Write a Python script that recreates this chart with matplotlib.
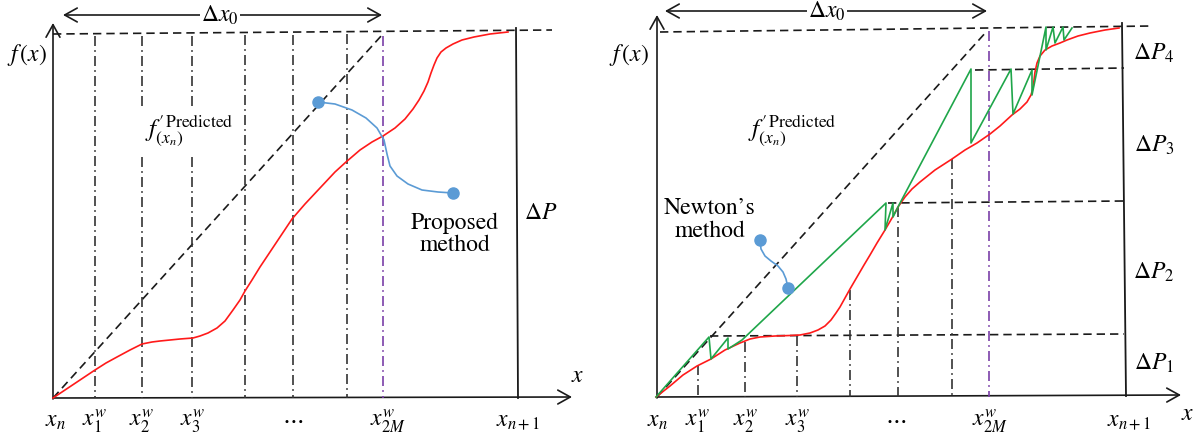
import matplotlib.pyplot as plt
from matplotlib.patches import FancyArrowPatch

plt.rcParams['mathtext.fontset'] = 'stix'
plt.rcParams['font.family'] = ['STIXGeneral', 'DejaVu Serif']

# all positions are in picture pixels (x to the right, y downward)

# ---------------- left panel ----------------
L_origin = (53, 398)
L_xaxis_tip = (572, 397)
L_yaxis_tip = (53, 23)
L_top_dash_x = [53, 552]
L_top_dash_y = [34, 30]
L_right_x = [516, 518]
L_right_y = [28, 398]
L_diag_x = [53, 382]
L_diag_y = [398, 35]
L_curve_x = [53, 65, 80, 95, 106, 117, 130, 142, 152, 160, 170, 180, 193, 200, 208, 217, 225,
             233, 240, 245, 252, 260, 268, 276, 284, 292, 305, 320, 335, 346, 360, 372, 383,
             395, 405, 413, 419, 424, 428, 431, 434, 437, 441, 446, 453, 462, 474, 490, 508]
L_curve_y = [398, 390, 380, 370, 363, 357, 350, 344, 342, 341, 340, 339, 338, 336, 333, 328, 321,
             310, 300, 291, 280, 267, 255, 243, 231, 219, 204, 188, 172, 162, 150, 142, 136,
             128, 119, 109, 100, 91, 82, 73, 65, 58, 52, 48, 44, 40, 37, 34, 32]
L_grid_x = [95, 142, 192, 245, 293, 347]
L_grid_top = [36, 36, 36, 35, 35, 34]
L_gap_x = [142, 192]
L_gap = (107, 157)
L_purple_x = 383
L_blue_x = [318, 335, 352, 366, 377, 384, 387, 390, 397, 408, 422, 438, 453]
L_blue_y = [102, 104, 110, 118, 128, 140, 154, 166, 176, 184, 190, 192, 193]
L_tick_x = [55, 95, 142, 193, 293, 388, 518]
L_tick_text = [r'$x_n$', r'$x_1^w$', r'$x_2^w$', r'$x_3^w$', r'$\cdots$', r'$x_{2M}^w$', r'$x_{n+1}$']

# ---------------- right panel ----------------
R_origin = (657, 397)
R_xaxis_tip = (1181, 395)
R_yaxis_tip = (657, 15)
R_top_dash_x = [660, 1152]
R_top_dash_y = [32, 26]
R_right_x = [1122, 1126]
R_right_y = [23, 396]
R_diag_x = [657, 987]
R_diag_y = [397, 31]
R_curve_x = [656, 670, 683, 697, 711, 725, 740, 750, 760, 775, 790, 800, 810, 818, 825, 831, 836,
             840, 845, 850, 857, 864, 870, 877, 885, 892, 898, 905, 912, 920, 935, 952, 965,
             977, 990, 1000, 1012, 1020, 1027, 1031, 1033, 1034, 1035, 1037, 1040, 1045, 1052,
             1060, 1067, 1078, 1090, 1105, 1119]
R_curve_y = [397, 386, 375, 366, 359, 350, 343, 339, 337, 336, 335.5, 335, 333, 330, 326, 320, 313,
             307, 298, 289, 277, 265, 255, 243, 230, 218, 207, 197, 189, 182, 170, 159, 150,
             143, 134, 126, 115, 109, 102, 95, 88, 80, 72, 63, 56, 50, 46,
             43, 40, 36, 33, 30, 28]
R_grid_x = [698, 745, 797, 850, 898, 952]
R_grid_top = [365, 342, 336, 290, 207, 159]
R_purple_x = 989
R_level_y = [70, 203, 336]
R_level_x0 = [975, 888, 710]
R_newton_x = [656, 709, 711, 728, 728, 742, 886, 885, 893, 893, 899, 971, 971, 1011, 1013,
              1032, 1032, 1046, 1046, 1053, 1055, 1063, 1064, 1072]
R_newton_y = [397, 337, 359, 338, 349, 340, 203, 230, 203, 217, 205, 69, 143, 69, 114,
              70, 95, 27, 50, 27, 43, 27, 40, 28]
R_blue_x = [760, 761, 765, 771, 778, 783, 786, 788]
R_blue_y = [240, 249, 256, 261, 266, 272, 279, 288]
R_tick_x = [657, 698, 746, 798, 896, 990, 1129]
R_tick_text = L_tick_text
R_dp_text = [r'$\Delta P_4$', r'$\Delta P_3$', r'$\Delta P_2$', r'$\Delta P_1$']
R_dp_y = [53, 145, 272, 363]

INK = '#1a1a1a'
GRID = '#333333'
RED = '#ff1a1a'
GREEN = '#1fa64a'
BLUE = '#5b9bd5'
PURPLE = '#7a3fa8'
DASH = (0, (5, 3))
DASHDOT = (0, (6, 2.5, 1, 2.5))
FS = 17

fig = plt.figure(figsize=(12.01, 4.37), dpi=100)
ax = fig.add_axes([0, 0, 1, 1])
ax.set_xlim(0, 1201)
ax.set_ylim(437, 0)
ax.axis('off')


def arrow(p0, p1, style='->'):
    ax.add_patch(FancyArrowPatch(p0, p1, arrowstyle=style + ',head_length=0.45,head_width=0.25',
                                 mutation_scale=20, color=INK, lw=1.2, shrinkA=0, shrinkB=0))


def panel(origin, xtip, ytip, dash_x, dash_y, right_x, right_y, diag_x, diag_y,
          curve_x, curve_y, tick_x, tick_text, span_x, span_label_x, span_y):
    arrow(origin, xtip)
    arrow((origin[0], origin[1] + 1), ytip)
    ax.plot(dash_x, dash_y, color=INK, lw=1.2, ls=DASH)
    ax.plot(right_x, right_y, color=INK, lw=1.3)
    ax.plot(diag_x, diag_y, color=INK, lw=1.2, ls=DASH)
    ax.plot(curve_x, curve_y, color=RED, lw=1.2, zorder=4)
    for x, t in zip(tick_x, tick_text):
        ax.text(x, 421, t, fontsize=FS, ha='center', va='center')
    arrow((span_x[0], span_y), (span_x[1], span_y), '<->')
    ax.text(span_label_x, span_y, r'$\Delta x_0$', fontsize=FS, ha='center', va='center',
            bbox=dict(facecolor='white', edgecolor='none', pad=1))


# left panel
panel(L_origin, L_xaxis_tip, L_yaxis_tip, L_top_dash_x, L_top_dash_y, L_right_x, L_right_y,
      L_diag_x, L_diag_y, L_curve_x, L_curve_y, L_tick_x, L_tick_text, (63, 382), 220, 15)
for x, top in zip(L_grid_x, L_grid_top):
    if x in L_gap_x:
        ax.plot([x, x], [top, L_gap[0]], color=GRID, lw=1.2, ls=DASHDOT)
        ax.plot([x, x], [L_gap[1], 398], color=GRID, lw=1.2, ls=DASHDOT)
    else:
        ax.plot([x, x], [top, 398], color=GRID, lw=1.2, ls=DASHDOT)
ax.plot([L_purple_x, L_purple_x], [36, 398], color=PURPLE, lw=1.2, ls=DASHDOT)
ax.plot(L_blue_x, L_blue_y, color=BLUE, lw=1.2, zorder=5)
ax.plot([L_blue_x[0], L_blue_x[-1]], [L_blue_y[0], L_blue_y[-1]], 'o', color=BLUE, ms=8, zorder=6)
ax.text(27, 55, r'$f\,(x)$', fontsize=FS, ha='center', va='center')
ax.text(145, 130, r"$f^{\prime\,\mathrm{Predicted}}_{(x_n)}$", fontsize=FS + 1, ha='left', va='center')
ax.text(578, 376, r'$x$', fontsize=FS, ha='center', va='center')
ax.text(541, 213, r'$\Delta P$', fontsize=FS, ha='center', va='center')
ax.text(455, 234, 'Proposed\nmethod', fontsize=FS, ha='center', va='center', linespacing=1.05)

# right panel
panel(R_origin, R_xaxis_tip, R_yaxis_tip, R_top_dash_x, R_top_dash_y, R_right_x, R_right_y,
      R_diag_x, R_diag_y, R_curve_x, R_curve_y, R_tick_x, R_tick_text, (665, 987), 827, 11)
for y, x0 in zip(R_level_y, R_level_x0):
    ax.plot([x0, 1124], [y, y - 2], color=INK, lw=1.2, ls=DASH)
for x, top in zip(R_grid_x, R_grid_top):
    ax.plot([x, x], [top, 397], color=GRID, lw=1.2, ls=DASHDOT)
ax.plot([R_purple_x, R_purple_x], [31, 397], color=PURPLE, lw=1.2, ls=DASHDOT)
ax.plot(R_newton_x, R_newton_y, color=GREEN, lw=1.2, zorder=5)
ax.plot(R_blue_x, R_blue_y, color=BLUE, lw=1.2, zorder=5)
ax.plot([R_blue_x[0], R_blue_x[-1]], [R_blue_y[0], R_blue_y[-1]], 'o', color=BLUE, ms=8, zorder=6)
ax.text(629, 55, r'$f\,(x)$', fontsize=FS, ha='center', va='center')
ax.text(748, 130, r"$f^{\prime\,\mathrm{Predicted}}_{(x_n)}$", fontsize=FS + 1, ha='left', va='center')
ax.text(1188, 414, r'$x$', fontsize=FS, ha='center', va='center')
for t, y in zip(R_dp_text, R_dp_y):
    ax.text(1154, y, t, fontsize=FS, ha='center', va='center')
ax.text(710, 220, "Newton\u2019s\nmethod", fontsize=FS, ha='center', va='center', linespacing=1.1)

fig.savefig('out.png', dpi=100)
